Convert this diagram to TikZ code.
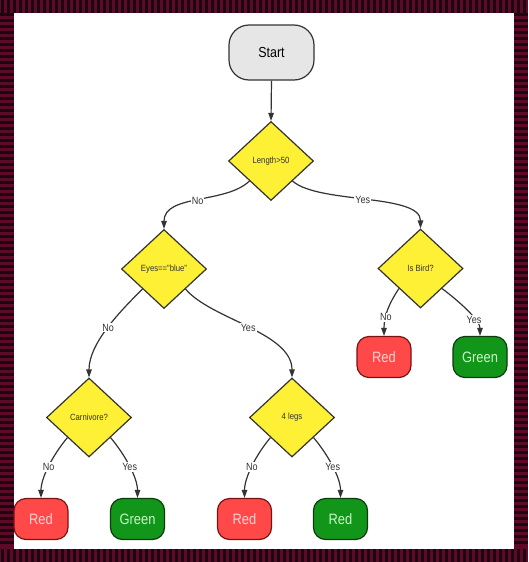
\documentclass[tikz,border=0pt]{standalone}
\usepackage{fontspec}
\setmainfont{Liberation Sans}[FakeStretch=0.86]
\usetikzlibrary{shapes.geometric,arrows.meta}
\definecolor{frameA}{HTML}{5C0A28}
\definecolor{frameB}{HTML}{1C0610}
\definecolor{linec}{HTML}{333333}
\definecolor{startfill}{HTML}{E6E6E6}
\definecolor{yel}{HTML}{FDF035}
\definecolor{redfill}{HTML}{FF4848}
\definecolor{redline}{HTML}{7A1212}
\definecolor{redtext}{HTML}{FFD2D2}
\definecolor{grnfill}{HTML}{12961A}
\definecolor{grnline}{HTML}{0C3A0C}
\definecolor{grntext}{HTML}{C8F5C8}
\tikzset{
  startbox/.style={draw=linec, line width=1.2pt, fill=startfill, rounded corners=20pt,
    minimum width=85pt, minimum height=55pt, inner sep=0pt, font=\fontsize{14.5}{14.5}\selectfont},
  decision/.style={diamond, draw=linec, line width=1.2pt, fill=yel, inner sep=0pt,
    minimum width=85pt, minimum height=79pt, font=\fontsize{9}{9}\selectfont, text=linec},
  redbox/.style={draw=redline, line width=1.2pt, fill=redfill, rounded corners=12pt,
    minimum width=54pt, minimum height=41pt, inner sep=0pt, text=redtext, font=\fontsize{15}{15}\selectfont},
  grnbox/.style={draw=grnline, line width=1.2pt, fill=grnfill, rounded corners=12pt,
    minimum width=54pt, minimum height=41pt, inner sep=0pt, text=grntext, font=\fontsize{15}{15}\selectfont},
  conn/.style={draw=linec, line width=1.2pt, -{Triangle[length=8pt,width=5.5pt]}},
  lbl/.style={fill=white, inner sep=1pt, text=linec, font=\fontsize{10.5}{10.5}\selectfont}
}
\begin{document}
\begin{tikzpicture}[x=1pt,y=-1pt]
\useasboundingbox (0,0) rectangle (528,562);
% frame
\fill[frameA] (0,0) rectangle (528,562);
\fill[white] (14,13) rectangle (514,549);
\foreach \i in {0,...,87} {
  \fill[frameB] (\i*6+1,0) rectangle (\i*6+3.5,13);
  \fill[frameB] (\i*6+1,549) rectangle (\i*6+3.5,562);
}
\foreach \i in {2,...,90} {
  \fill[frameB] (0,\i*6+1) rectangle (14,\i*6+3.5);
  \fill[frameB] (514,\i*6+1) rectangle (528,\i*6+3.5);
}
% nodes
\node[startbox] (start) at (271.5,52.5) {Start};
\node[decision] (len) at (271,161) {Length>50};
\node[decision] (eyes) at (164,269) {Eyes=="blue"};
\node[decision] (bird) at (420.5,268.5) {Is Bird?};
\node[decision] (carn) at (89,417.5) {Carnivore?};
\node[decision] (legs) at (292,417.5) {4 legs};
\node[redbox] (r1) at (384,357) {Red};
\node[grnbox] (g1) at (480,357) {Green};
\node[redbox] (r2) at (41,519) {Red};
\node[grnbox] (g2) at (137.5,519) {Green};
\node[redbox] (r3) at (244.5,519) {Red};
\node[grnbox] (g3) at (340.5,519) {Red};
% connectors
\draw[conn] (start.south) -- (len.north);
\draw[conn] (len.south west) .. controls +(-24,23) and +(0,-35) .. (eyes.north) node[lbl,pos=0.5] {No};
\draw[conn] (len.south east) .. controls +(26,23) and +(0,-35) .. (bird.north) node[lbl,pos=0.48] {Yes};
\draw[conn] (eyes.south west) .. controls +(-20,20) and +(0,-35) .. (carn.north) node[lbl,pos=0.5] {No};
\draw[conn] (eyes.south east) .. controls +(25,30) and +(0,-45) .. (legs.north) node[lbl,pos=0.5] {Yes};
\draw[conn] (bird.south west) .. controls +(-10,15) and +(0,-20) .. (r1.north) node[lbl,pos=0.65] {No};
\draw[conn] (bird.south east) .. controls +(20,15) and +(0,-15) .. (g1.north) node[lbl,pos=0.65] {Yes};
\draw[conn] (carn.south west) .. controls +(-15,18) and +(0,-20) .. (r2.north) node[lbl,pos=0.5] {No};
\draw[conn] (carn.south east) .. controls +(15,18) and +(0,-20) .. (g2.north) node[lbl,pos=0.5] {Yes};
\draw[conn] (legs.south west) .. controls +(-15,18) and +(0,-20) .. (r3.north) node[lbl,pos=0.5] {No};
\draw[conn] (legs.south east) .. controls +(15,18) and +(0,-20) .. (g3.north) node[lbl,pos=0.5] {Yes};
\end{tikzpicture}
\end{document}
